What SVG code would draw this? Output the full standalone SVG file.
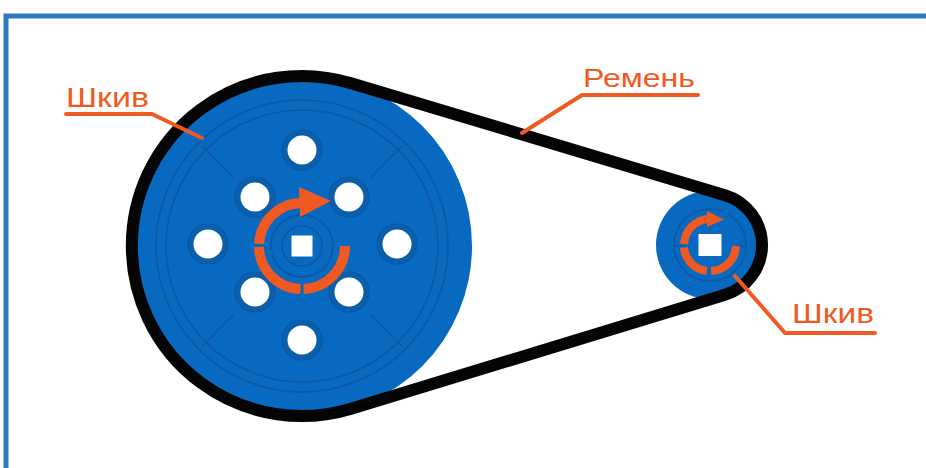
<svg xmlns="http://www.w3.org/2000/svg" width="926" height="468" viewBox="0 0 926 468">
  <style>
    .frame { fill: none; stroke: #2f78c3; stroke-width: 5; }
    .disk { fill: #0769bf; }
    .groove { fill: none; stroke: #0b58a3; stroke-width: 1.6; }
    .hole { fill: #ffffff; }
    .holeRing { fill: #0a5fac; stroke: #0b56a0; stroke-width: 1.2; }
    .hub { fill: #ffffff; }
    .rot { fill: none; stroke: #f05a22; stroke-linecap: butt; }
    .arrowHead { fill: #f05a22; }
    .belt { fill: none; stroke: #050505; stroke-width: 12; stroke-linejoin: round; }
    .leader { fill: none; stroke: #f05a22; stroke-width: 4; stroke-linecap: round; stroke-linejoin: round; }
    .label { font-family: "Liberation Sans", Arial, sans-serif; fill: #f05a22; }
  </style>

  <!-- outer frame -->
  <path class="frame" d="M6,470 V16 H930"/>

  <!-- large pulley -->
  <g id="pulley-large">
    <circle class="disk" cx="302" cy="246" r="170"/>
    <circle class="groove" cx="302" cy="246" r="146"/>
    <circle class="groove" cx="302" cy="246" r="136"/>
    <!-- spokes -->
    <path class="groove" d="M233.4,177.4 L202.3,146.3 M370.6,177.4 L401.7,146.3 M233.4,314.6 L202.3,345.7 M370.6,314.6 L401.7,345.7"/>
    <!-- hub rings -->
    <circle class="groove" cx="302" cy="246" r="31"/>
    <circle class="groove" cx="302" cy="246" r="20"/>
    <!-- holes -->
    <g>
      <circle class="holeRing" cx="302" cy="150" r="20"/>
      <circle class="holeRing" cx="302" cy="340" r="20"/>
      <circle class="holeRing" cx="208" cy="244" r="20"/>
      <circle class="holeRing" cx="397" cy="244" r="20"/>
      <circle class="holeRing" cx="255" cy="197" r="20"/>
      <circle class="holeRing" cx="349" cy="197" r="20"/>
      <circle class="holeRing" cx="255" cy="292" r="20"/>
      <circle class="holeRing" cx="349" cy="292" r="20"/>
      <circle class="hole" cx="302" cy="150" r="14.5"/>
      <circle class="hole" cx="302" cy="340" r="14.5"/>
      <circle class="hole" cx="208" cy="244" r="14.5"/>
      <circle class="hole" cx="397" cy="244" r="14.5"/>
      <circle class="hole" cx="255" cy="197" r="14.5"/>
      <circle class="hole" cx="349" cy="197" r="14.5"/>
      <circle class="hole" cx="255" cy="292" r="14.5"/>
      <circle class="hole" cx="349" cy="292" r="14.5"/>
    </g>
    <rect class="hub" x="291.5" y="235.5" width="21" height="21"/>
    <!-- rotation arrow -->
    <g>
      <path class="rot" stroke-width="10" d="M345,246 A43,43 0 0 1 303.5,289"/>
      <path class="rot" stroke-width="10" d="M300.5,289 A43,43 0 0 1 259,246.8"/>
      <path class="rot" stroke-width="10" d="M259.1,243.7 A43,43 0 0 1 302,203"/>
      <polygon class="arrowHead" points="299,187 331,201 300,217"/>
    </g>
  </g>

  <!-- small pulley -->
  <g id="pulley-small">
    <circle class="disk" cx="710" cy="245" r="54"/>
    <circle class="groove" cx="710" cy="245" r="36"/>
    <path class="groove" d="M674,246 H683 M737,246 H746"/>
    <rect class="hub" x="698.5" y="234" width="23" height="22"/>
    <g>
      <path class="rot" stroke-width="8" d="M736,246 A26,26 0 0 1 711,271"/>
      <path class="rot" stroke-width="8" d="M707,271 A26,26 0 0 1 684,247.5"/>
      <path class="rot" stroke-width="8" d="M684.1,244 A26,26 0 0 1 709,219"/>
      <polygon class="arrowHead" points="707,211 724,219.5 707,227"/>
    </g>
  </g>

  <!-- connectors: belt and label leaders -->
  <g id="connectors">
    <path class="belt" d="M351.1,83.3 L725,195.2 A52,52 0 0 1 725,294.8 L351.1,408.7 A170,170 0 1 1 351.1,83.3 Z"/>
    <path class="leader" d="M66,114 H152 L202,138"/>
    <path class="leader" d="M698,95 H582 L522,133"/>
    <path class="leader" d="M735,276 L785,333 H875"/>
  </g>

  <!-- labels -->
  <g id="label-pulley-left">
    <text class="label" x="66" y="107" font-size="28" textLength="83" lengthAdjust="spacingAndGlyphs">Шкив</text>
  </g>
  <g id="label-belt">
    <text class="label" x="583" y="87" font-size="26" textLength="112" lengthAdjust="spacingAndGlyphs">Ремень</text>
  </g>
  <g id="label-pulley-right">
    <text class="label" x="792" y="323" font-size="28" textLength="82" lengthAdjust="spacingAndGlyphs">Шкив</text>
  </g>
</svg>
